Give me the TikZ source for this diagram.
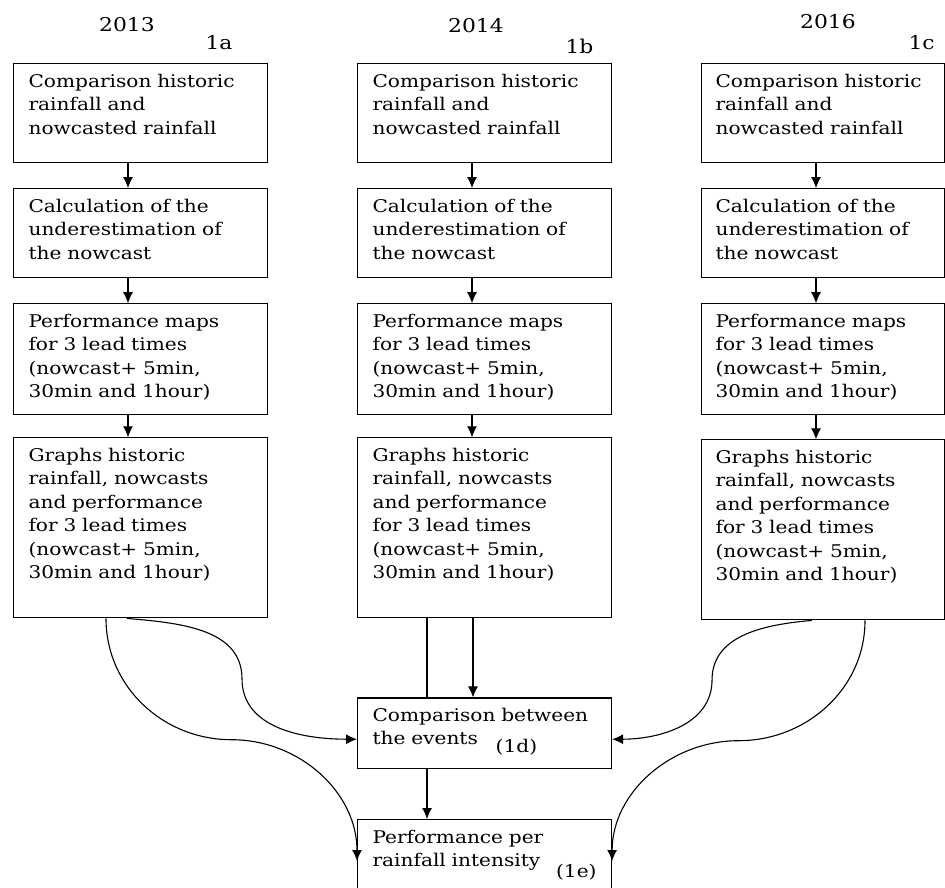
\documentclass[tikz,border=0pt]{standalone}
\usepackage{fontspec}
\setmainfont{DejaVu Serif}[FakeStretch=1.15]
\usetikzlibrary{calc,arrows.meta,positioning}

\begin{document}
\begin{tikzpicture}[x=1pt, y=1pt, line width=1.1pt,
                >={Latex[length=11pt,width=10pt]}]
        \tikzset{
                basic/.style   = {draw, font=\fontsize{17.5}{23.5}\selectfont, align=left,
                                inner ysep=0pt, text height=23.5pt},
                stepbox/.style = {basic, inner xsep=15pt, text width=224pt},
                narrow/.style  = {basic, inner xsep=14pt, text width=215pt},
                row1/.style    = {text depth=75.5pt},
                row2/.style    = {text depth=65.5pt},
                row3/.style    = {text depth=87.5pt},
                row4/.style    = {text depth=156.5pt},
                year/.style    = {font=\fontsize{19}{20}\selectfont, inner sep=0pt}
        }
        \useasboundingbox (0,0) rectangle (945,-887);

        % years and figure tags
        \node[year, anchor=base] (y1) at (127,-31) {2013};
        \node[year, anchor=base west] (t1) at (205,-49) {1a};
        \node[year, anchor=base] (y2) at (476,-32) {2014};
        \node[year, anchor=base west] (t2) at (565,-53) {1b};
        \node[year, anchor=base] (y3) at (828,-28) {2016};
        \node[year, anchor=base west] (t3) at (908,-49) {1c};

        % Column 2013
        \node[stepbox, row1, anchor=north west] (c11) at (13,-63) {Comparison historic\\rainfall and\\nowcasted rainfall};
        \node[stepbox, row2, below=25pt of c11] (c12) {Calculation of the\\underestimation of\\the nowcast};
        \node[stepbox, row3, below=25pt of c12] (c13) {Performance maps\\for 3 lead times\\(nowcast+ 5min,\\30min and 1hour)};
        \node[stepbox, row4, below=22pt of c13] (c14) {Graphs historic\\rainfall, nowcasts\\and performance\\for 3 lead times\\(nowcast+ 5min,\\30min and 1hour)};

        % Column 2014
        \node[stepbox, row1, anchor=north west] (c21) at (357,-63) {Comparison historic\\rainfall and\\nowcasted rainfall};
        \node[stepbox, row2, below=25pt of c21] (c22) {Calculation of the\\underestimation of\\the nowcast};
        \node[stepbox, row3, below=25pt of c22] (c23) {Performance maps\\for 3 lead times\\(nowcast+ 5min,\\30min and 1hour)};
        \node[stepbox, row4, below=22pt of c23] (c24) {Graphs historic\\rainfall, nowcasts\\and performance\\for 3 lead times\\(nowcast+ 5min,\\30min and 1hour)};

        % Column 2016
        \node[narrow, row1, anchor=north west] (c31) at (701,-63) {Comparison historic\\rainfall and\\nowcasted rainfall};
        \node[narrow, row2, below=25pt of c31] (c32) {Calculation of the\\underestimation of\\the nowcast};
        \node[narrow, row3, below=25pt of c32] (c33) {Performance maps\\for 3 lead times\\(nowcast+ 5min,\\30min and 1hour)};
        \node[narrow, row4, below=24pt of c33] (c34) {Graphs historic\\rainfall, nowcasts\\and performance\\for 3 lead times\\(nowcast+ 5min,\\30min and 1hour)};

        % Comparison of the events and performance per intensity
        \node[stepbox, text depth=47pt, below=79pt of c24] (d1) {Comparison between\\the events \hspace{12pt}\raisebox{-8pt}{(1d)}};
        \node[stepbox, text depth=63pt, below=50pt of d1] (e1) {Performance per\\rainfall intensity};
        \node[year, font=\fontsize{17.5}{20}\selectfont, anchor=base east] (e1tag)
                at ([xshift=-15pt,yshift=-58pt]e1.north east) {(1e)};

        % arrows down each column
        \foreach \col in {1,2,3} {
                \foreach \row/\next in {1/2,2/3,3/4} {
                        \draw[->] ([xshift=115pt]c\col\row.south west) -- ([xshift=115pt]c\col\next.north west);
                }
        }
        \draw ([xshift=70pt]c24.south west) -- ([xshift=70pt]d1.north west);
        \draw[->] ([xshift=116pt]c24.south west) -- ([xshift=116pt]d1.north west);
        \draw[->] ([xshift=70pt]d1.south west) -- ([xshift=70pt]e1.north west);

        % curved connectors from the outer columns
        \coordinate (l1) at ([xshift=114pt]c14.south west);
        \coordinate (l2) at ([xshift=93pt]c14.south west);
        \coordinate (r1) at ([xshift=111pt]c34.south west);
        \coordinate (r2) at ([xshift=164pt]c34.south west);
        \coordinate (d1l) at ([yshift=-6pt]d1.west);
        \coordinate (d1r) at ([yshift=-6pt]d1.east);
        \coordinate (e1l) at ([yshift=-42pt]e1.north west);
        \coordinate (e1r) at ([yshift=-42pt]e1.north east);
        \draw[->] (l1) to[out=-5,in=90] ($(l1)!.5!(d1l)$) to[out=-90,in=180] (d1l);
        \draw[->] (l2) to[out=-90,in=180] ($(l2)!.5!(e1l)$) to[out=0,in=90] (e1l);
        \draw[->] (r1) to[out=185,in=90] ($(r1)!.5!(d1r)$) to[out=-90,in=0] (d1r);
        \draw[->] (r2) to[out=-90,in=0] ($(r2)!.5!(e1r)$) to[out=180,in=90] (e1r);
\end{tikzpicture}
\end{document}
